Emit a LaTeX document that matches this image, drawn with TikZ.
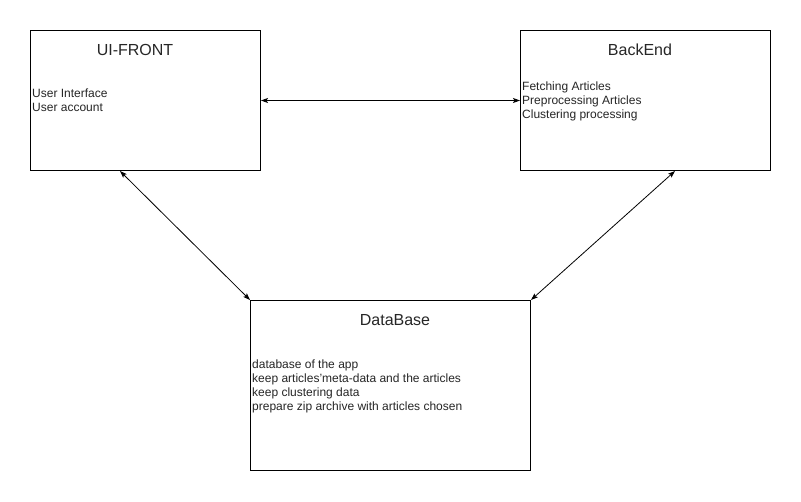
\documentclass[tikz,border=0pt]{standalone}
\usepackage{fontspec}
\setmainfont{Liberation Sans}
\usetikzlibrary{arrows.meta,calc}
\begin{document}
\begin{tikzpicture}[x=1pt,y=-1pt,
  box/.style={draw=black,line width=1pt,fill=white,inner sep=0pt,anchor=north west},
  title/.style={font=\fontsize{16}{19}\selectfont,inner sep=0pt,text=black!85},
  body/.style={font=\fontsize{12}{14}\selectfont,align=left,inner sep=0pt,anchor=north west,text=black!85},
  link/.style={line width=0.8pt,{Stealth[length=7pt,width=5pt,inset=1.5pt]}-{Stealth[length=7pt,width=5pt,inset=1.5pt]}}]
\useasboundingbox[fill=white] (0,0) rectangle (801,501);
\node[box,minimum width=230pt,minimum height=140pt] (ui) at (30,30) {};
\node[box,minimum width=250pt,minimum height=140pt] (be) at (520,30) {};
\node[box,minimum width=280pt,minimum height=170pt] (db) at (250,300) {};
\node[title] (uit) at (135,50) {UI-FRONT};
\node[title] (bet) at (640,50) {BackEnd};
\node[title] (dbt) at (395,320) {DataBase};
\node[body] (uib) at (32,88.7) {User Interface\\User account};
\node[body] (beb) at (522,81.7) {Fetching Articles\\Preprocessing Articles\\Clustering processing};
\node[body] (dbb) at (252,359.7) {database of the app\\keep articles'meta-data and the articles\\keep clustering data\\prepare zip archive with articles chosen};
\coordinate (uis) at ($(ui.south west)+(90,0)$);
\coordinate (bes) at ($(be.south west)+(155,0)$);
\draw[link] (ui.east) -- (be.west);
\draw[link] (uis) -- (db.north west);
\draw[link] (bes) -- (db.north east);
\end{tikzpicture}
\end{document}
